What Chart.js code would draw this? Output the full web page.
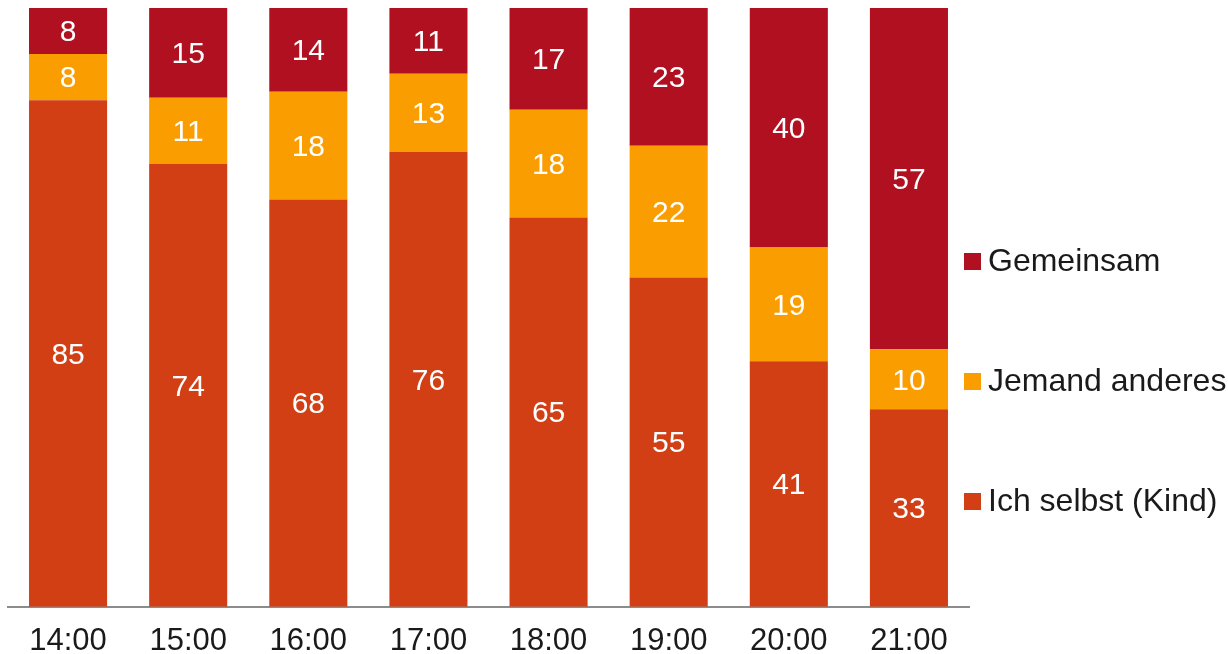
<!DOCTYPE html>
<html>
<head>
<meta charset="utf-8">
<script src="https://cdn.jsdelivr.net/npm/chart.js@4/dist/chart.umd.min.js"></script>
<style>
  html, body { margin: 0; padding: 0; background: #fff; }
  #wrap { width: 1228px; height: 654px; }
</style>
</head>
<body>
<div id="wrap"><canvas id="chart"></canvas></div>
<script>
const hours = ["14:00", "15:00", "16:00", "17:00", "18:00", "19:00", "20:00", "21:00"];
const ichSelbst = [84.6, 74, 68, 76, 65, 55, 41, 33];
const jemandAnderes = [7.7, 11, 18, 13, 18, 22, 19, 10];
const gemeinsam = [7.7, 15, 14, 11, 17, 23, 40, 57];

const FONT = "'Liberation Sans', Arial, sans-serif";

// white numbers in the middle of every segment
const segmentLabels = {
  id: "segmentLabels",
  afterDatasetsDraw(chart) {
    const ctx = chart.ctx;
    ctx.save();
    ctx.fillStyle = "#ffffff";
    ctx.font = "30px " + FONT;
    ctx.textAlign = "center";
    ctx.textBaseline = "middle";
    chart.data.datasets.forEach((ds, i) => {
      chart.getDatasetMeta(i).data.forEach((bar, j) => {
        const mid = (bar.y + bar.base) / 2;
        ctx.fillText(Math.round(ds.data[j]), bar.x, mid + 2);
      });
    });
    ctx.restore();
  }
};

// legend on the right, top item = last dataset
const sideLegend = {
  id: "sideLegend",
  afterDraw(chart) {
    const ctx = chart.ctx;
    const items = chart.data.datasets.slice().reverse();
    ctx.save();
    ctx.font = "32px " + FONT;
    ctx.textBaseline = "middle";
    items.forEach((ds, k) => {
      const y = 261 + k * 120;
      ctx.fillStyle = ds.backgroundColor;
      ctx.fillRect(964, y - 8, 17, 17);
      ctx.fillStyle = "#1a1a1a";
      ctx.fillText(ds.label, 988, y + 1);
    });
    ctx.restore();
  }
};

new Chart(document.getElementById("chart"), {
  type: "bar",
  data: {
    labels: hours,
    datasets: [
      { label: "Ich selbst (Kind)", data: ichSelbst, backgroundColor: "#D33F15" },
      { label: "Jemand anderes", data: jemandAnderes, backgroundColor: "#F99D00" },
      { label: "Gemeinsam", data: gemeinsam, backgroundColor: "#B0101F" }
    ]
  },
  options: {
    responsive: true,
    maintainAspectRatio: false,
    animation: false,
    layout: { padding: { left: 8, right: 259, top: 8, bottom: -14 } },
    datasets: { bar: { barPercentage: 0.65, categoryPercentage: 1 } },
    plugins: {
      legend: { display: false },
      tooltip: { enabled: false }
    },
    scales: {
      x: {
        stacked: true,
        grid: { display: false },
        border: { color: "#8c8c8c", width: 2 },
        ticks: { color: "#1a1a1a", font: { family: FONT, size: 31 }, padding: 8 }
      },
      y: {
        stacked: true,
        display: false,
        min: 0,
        max: 100
      }
    }
  },
  plugins: [segmentLabels, sideLegend]
});
</script>
</body>
</html>
